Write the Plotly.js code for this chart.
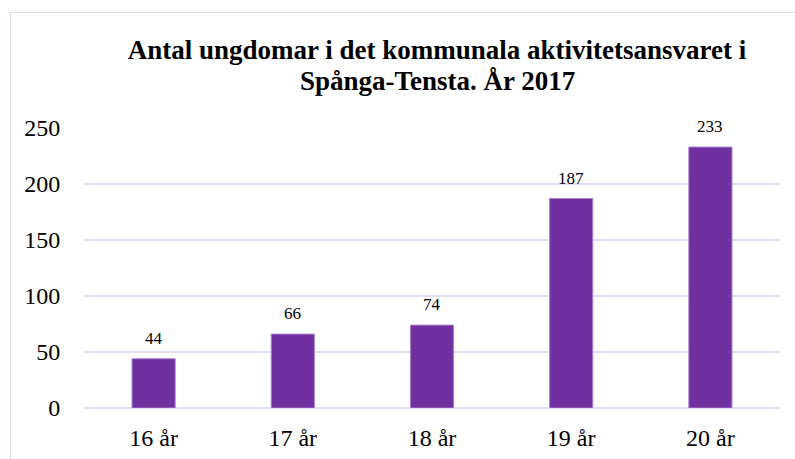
<!DOCTYPE html>
<html>
<head>
<meta charset="utf-8">
<script src="https://cdn.plot.ly/plotly-3.0.1.min.js"></script>
<style>
html,body{margin:0;padding:0;background:#fff;}
#wrap{position:relative;width:795px;height:459px;}
#chart{width:795px;height:459px;}
#frame{position:absolute;left:10px;top:12px;right:-2px;bottom:-2px;border-left:1.5px solid #E4DAF0;border-top:1.5px solid #E4DAF0;pointer-events:none;}
</style>
</head>
<body>
<div id="wrap"><div id="chart"></div><div id="frame"></div></div>
<script>
const categories = ["16 år", "17 år", "18 år", "19 år", "20 år"];
const values = [44, 66, 74, 187, 233];
const yTicks = [0, 50, 100, 150, 200, 250];
const titleLine1 = "Antal ungdomar i det kommunala aktivitetsansvaret i";
const titleLine2 = "Spånga-Tensta. År 2017";

const serif = "'Liberation Serif', 'Times New Roman', serif";

const trace = {
  type: "bar",
  x: categories,
  y: values,
  marker: {color: "#7030A0", line: {color: "#A983CC", width: 1}},
  hoverinfo: "skip"
};

const annotations = categories.map((c, i) => ({
  x: c, y: values[i], xref: "x", yref: "y",
  text: String(values[i]), showarrow: false,
  yanchor: "bottom", yshift: 9,
  font: {family: serif, size: 17, color: "#000"}
}));

annotations.push({
  xref: "paper", yref: "paper", x: (437 - 84) / 696, y: (408 - 81) / 280,
  xanchor: "center", yanchor: "middle", showarrow: false,
  text: titleLine2,
  font: {family: serif, size: 27, color: "#000", weight: "bold"}
});

const layout = {
  width: 795, height: 459,
  margin: {l: 84, r: 15, t: 128, b: 51},
  paper_bgcolor: "#fff", plot_bgcolor: "#fff",
  bargap: 0.69,
  showlegend: false,
  title: {
    text: titleLine1,
    font: {family: serif, size: 27, color: "#000", weight: "bold"},
    xref: "paper", x: (437 - 84) / 696, xanchor: "center",
    yref: "container", y: 1 - 50 / 459, yanchor: "middle"
  },
  xaxis: {
    type: "category",
    tickfont: {family: serif, size: 24, color: "#000"},
    showgrid: false, zeroline: false, showline: false,
    ticks: "outside", ticklen: 8, tickcolor: "rgba(0,0,0,0)"
  },
  yaxis: {
    range: [0, 250],
    tickvals: yTicks,
    ticktext: yTicks.map(String),
    tickfont: {family: serif, size: 24, color: "#000"},
    showgrid: true, gridcolor: "#E6DDF2", gridwidth: 1.5,
    zeroline: true, zerolinecolor: "#E6DDF2", zerolinewidth: 1.5,
    showline: false,
    ticks: "outside", ticklen: 18, tickcolor: "rgba(0,0,0,0)"
  },
  annotations: annotations
};

Plotly.newPlot("chart", [trace], layout, {staticPlot: true, displayModeBar: false});
</script>
</body>
</html>
